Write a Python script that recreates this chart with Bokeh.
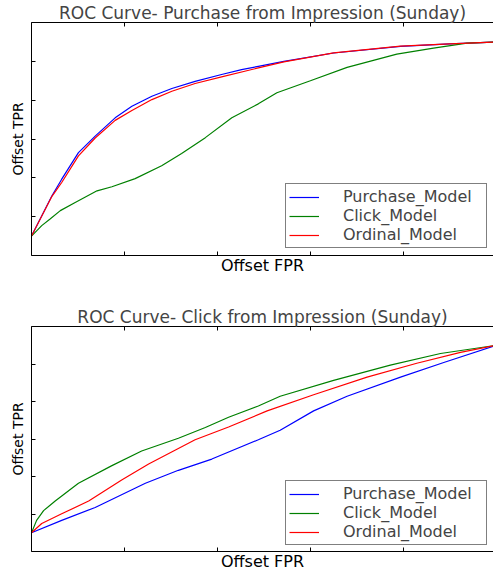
from bokeh.plotting import figure
from bokeh.models import Range1d, FixedTicker, LinearAxis, Legend, LegendItem
from bokeh.layouts import column
from bokeh.embed import file_html
from bokeh.resources import INLINE

# ---- data: top chart (Purchase from Impression) ----
top_purchase_x = [0, 0.044, 0.065, 0.101, 0.137, 0.18, 0.216, 0.259, 0.302, 0.352, 0.409, 0.452, 0.488, 0.543, 0.65, 0.794, 0.9, 1.0]
top_purchase_y = [0, 0.208, 0.293, 0.43, 0.515, 0.609, 0.669, 0.72, 0.76, 0.797, 0.832, 0.857, 0.874, 0.90, 0.943, 0.977, 0.99, 1.0]
top_click_x = [0, 0.022, 0.04, 0.062, 0.094, 0.141, 0.173, 0.223, 0.28, 0.323, 0.374, 0.431, 0.488, 0.528, 0.6, 0.679, 0.786, 0.865, 0.937, 1.0]
top_click_y = [0, 0.054, 0.088, 0.131, 0.173, 0.233, 0.254, 0.296, 0.362, 0.425, 0.507, 0.609, 0.681, 0.738, 0.80, 0.869, 0.937, 0.968, 0.994, 1.0]
top_ordinal_x = [0, 0.044, 0.065, 0.101, 0.137, 0.18, 0.216, 0.259, 0.302, 0.352, 0.409, 0.488, 0.543, 0.65, 0.794, 0.9, 1.0]
top_ordinal_y = [0, 0.205, 0.276, 0.413, 0.505, 0.596, 0.647, 0.703, 0.746, 0.786, 0.82, 0.866, 0.897, 0.944, 0.978, 0.99, 1.0]

# ---- data: bottom chart (Click from Impression) ----
bot_purchase_x = [0, 0.065, 0.137, 0.245, 0.316, 0.388, 0.488, 0.535, 0.607, 0.679, 0.794, 0.887, 1.0]
bot_purchase_y = [0, 0.066, 0.135, 0.264, 0.333, 0.393, 0.496, 0.547, 0.65, 0.728, 0.83, 0.908, 1.0]
bot_click_x = [0, 0.011, 0.026, 0.051, 0.101, 0.173, 0.237, 0.316, 0.374, 0.424, 0.488, 0.535, 0.65, 0.772, 0.88, 1.0]
bot_click_y = [0, 0.066, 0.118, 0.169, 0.264, 0.358, 0.436, 0.504, 0.561, 0.616, 0.676, 0.728, 0.813, 0.894, 0.956, 1.0]
bot_ordinal_x = [0, 0.022, 0.065, 0.123, 0.194, 0.252, 0.352, 0.424, 0.507, 0.607, 0.722, 0.829, 0.923, 1.0]
bot_ordinal_y = [0, 0.049, 0.101, 0.169, 0.281, 0.367, 0.496, 0.564, 0.65, 0.736, 0.83, 0.904, 0.962, 1.0]

series_names = ["Purchase_Model", "Click_Model", "Ordinal_Model"]
series_colors = ["#0000ff", "#008000", "#ff0000"]
x_ticks = [0, 0.2, 0.4, 0.6, 0.8, 1.0]
y_ticks = [0.1, 0.3, 0.5, 0.7, 0.9]

FONT = "DejaVu Sans"


def style_axis(ax, ticks):
    ax.ticker = FixedTicker(ticks=ticks)
    ax.major_tick_in = 4
    ax.major_tick_out = 0
    ax.minor_tick_line_color = None
    ax.major_label_text_color = None
    ax.major_label_text_font_size = "1px"
    ax.major_label_standoff = 0
    ax.axis_line_color = "black"
    ax.axis_line_width = 1
    ax.major_tick_line_color = "black"
    ax.axis_label_text_font = FONT
    ax.axis_label_text_font_style = "normal"
    ax.axis_label_text_color = "black"


def make_fig(title, xs, ys, height, top, bottom, legend_y):
    p = figure(width=493, height=height, output_backend="svg", toolbar_location=None,
               x_range=Range1d(0, 0.994), y_range=Range1d(-0.1, 1.1),
               min_border_left=31, min_border_right=0, min_border_top=top,
               min_border_bottom=bottom)
    p.title.text = title
    p.title.align = "center"
    p.title.text_font = FONT
    p.title.text_font_size = "17px"
    p.title.text_font_style = "normal"
    p.title.standoff = 0
    p.title.offset = 0
    p.grid.visible = False
    p.outline_line_color = None
    p.background_fill_color = "white"
    p.border_fill_color = "white"

    style_axis(p.xaxis[0], x_ticks)
    style_axis(p.yaxis[0], y_ticks)
    p.xaxis[0].axis_label = "Offset FPR"
    p.xaxis[0].axis_label_text_font_size = "16px"
    p.xaxis[0].axis_label_standoff = 0
    p.yaxis[0].axis_label = "Offset TPR"
    p.yaxis[0].axis_label_text_font_size = "14px"
    p.yaxis[0].axis_label_standoff = 6

    top_ax = LinearAxis()
    style_axis(top_ax, x_ticks)
    p.add_layout(top_ax, "above")

    items = []
    for x, y, name, color in zip(xs, ys, series_names, series_colors):
        r = p.line(x, y, line_color=color, line_width=1.2)
        items.append(LegendItem(label=name, renderers=[r]))

    leg = Legend(items=items, location=(254, legend_y))
    leg.label_text_font = FONT
    leg.label_text_font_size = "16px"
    leg.border_line_color = "black"
    leg.border_line_width = 1
    leg.background_fill_alpha = 1
    leg.padding = 3
    leg.spacing = 0
    leg.glyph_width = 30
    leg.glyph_height = 18
    leg.label_height = 18
    leg.label_width = 140
    leg.label_standoff = 24
    leg.margin = 0
    p.add_layout(leg)
    return p


p1 = make_fig("ROC Curve- Purchase from Impression (Sunday)",
              [top_purchase_x, top_click_x, top_ordinal_x],
              [top_purchase_y, top_click_y, top_ordinal_y],
              height=280, top=21, bottom=25, legend_y=7)
p2 = make_fig("ROC Curve- Click from Impression (Sunday)",
              [bot_purchase_x, bot_click_x, bot_ordinal_x],
              [bot_purchase_y, bot_click_y, bot_ordinal_y],
              height=293, top=46, bottom=14, legend_y=6)

layout = column(p1, p2, spacing=0)
open("out.html", "w").write(file_html(layout, INLINE))
